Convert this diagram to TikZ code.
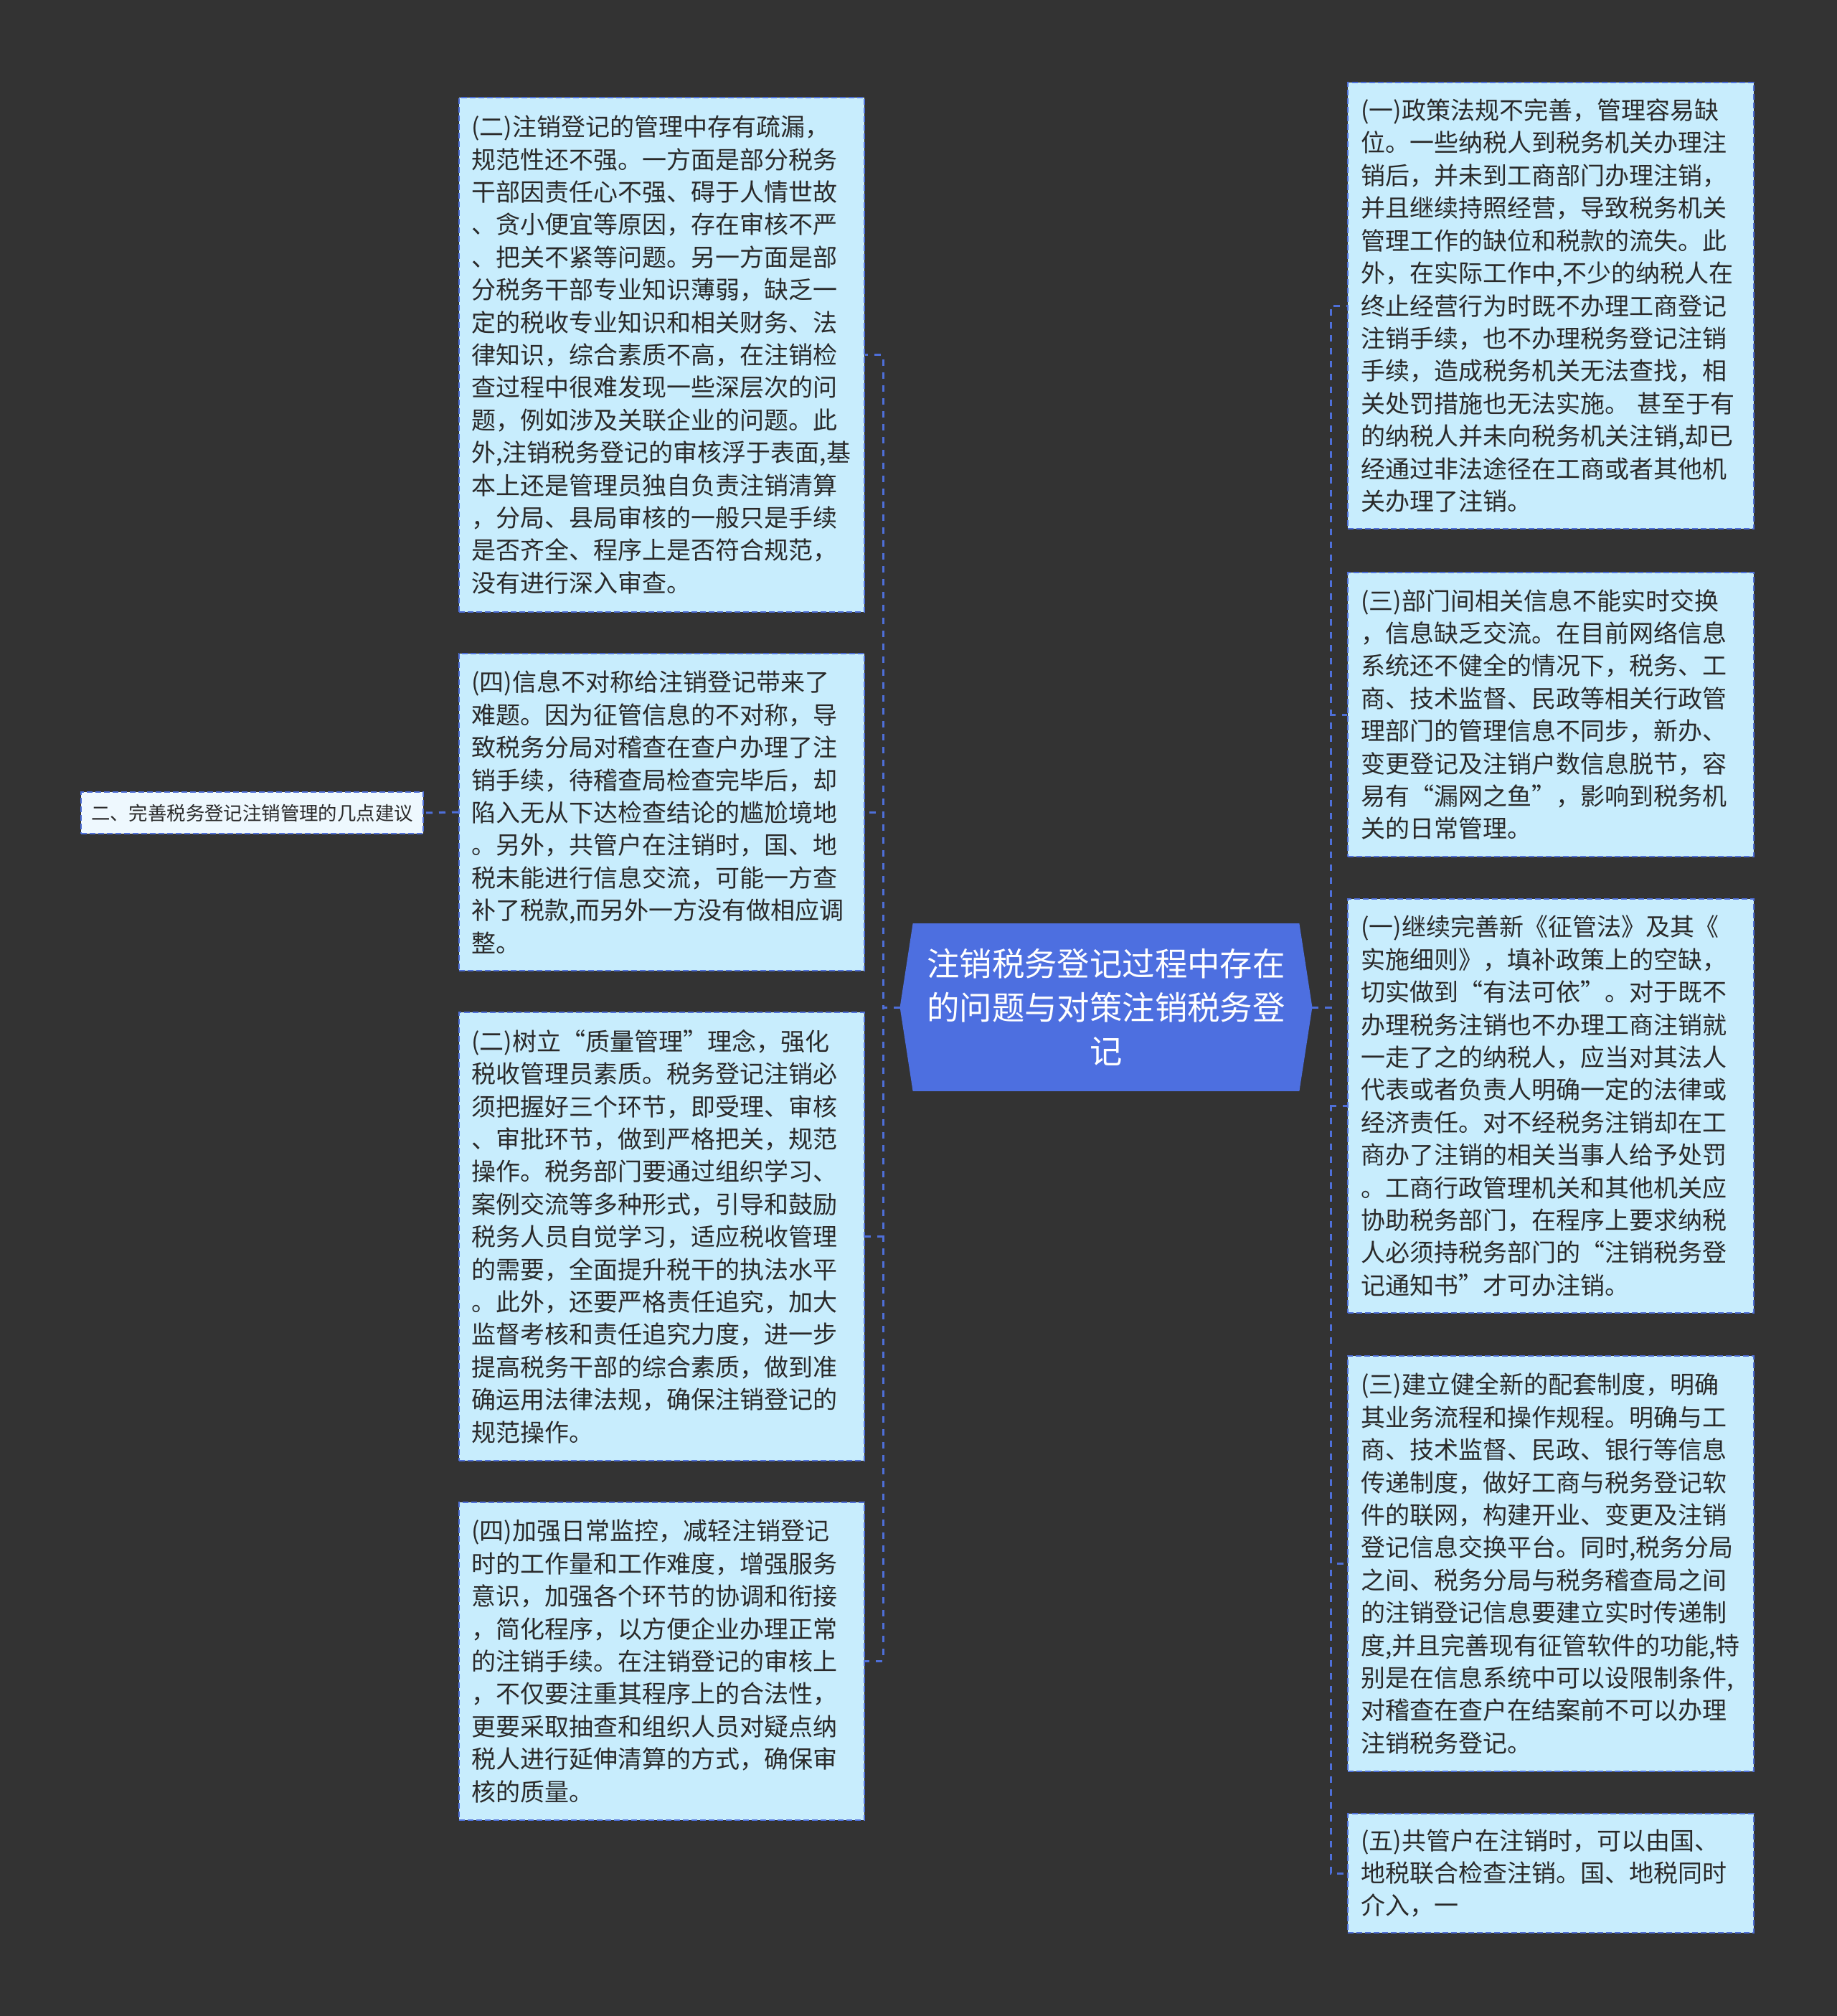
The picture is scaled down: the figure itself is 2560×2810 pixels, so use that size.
\documentclass[tikz,border=0pt]{standalone}
\usepackage{fontspec}
\newfontfamily\cjk{Noto Sans CJK SC}
\usetikzlibrary{calc}
\definecolor{bgdark}{HTML}{333333}
\definecolor{boxfill}{HTML}{C8EDFD}
\definecolor{dashblue}{HTML}{4E6FD9}
\definecolor{hexfill}{HTML}{4D6FE0}
\definecolor{smallfill}{HTML}{EEF8FE}
\definecolor{textdark}{HTML}{2A2A2A}
\pgfdeclarelayer{bottom}
\pgfdeclarelayer{hexlayer}
\pgfsetlayers{bottom,hexlayer,main}
\tikzset{
  box/.style={draw=dashblue, line width=1bp, dash pattern=on 4bp off 2bp,
    fill=boxfill, text=textdark, align=left, inner sep=0bp,
    text width=265bp, font=\cjk\fontsize{17bp}{22.7bp}\selectfont},
  lbox/.style={box, minimum width=282.5bp},
  rbox/.style={box, minimum width=283bp},
  smallbox/.style={draw=dashblue, line width=1bp, dash pattern=on 4bp off 2bp,
    fill=smallfill, text=textdark, inner sep=0bp, minimum width=238.5bp,
    minimum height=29bp, font=\cjk\fontsize{13.2bp}{16bp}\selectfont},
  centerbox/.style={inner sep=0bp, minimum width=287bp, minimum height=116.5bp,
    text=white, align=center, font=\cjk\fontsize{22.7bp}{30.5bp}\selectfont},
  conn/.style={draw=dashblue, line width=1.5bp, dash pattern=on 4.5bp off 4.5bp}
}
\begin{document}
\begin{tikzpicture}[x=0.5bp,y=-0.5bp]
\useasboundingbox (0,0) rectangle (2560,2810);
\begin{pgfonlayer}{bottom}
\fill[bgdark] (-20,-20) rectangle (2580,2830);
\end{pgfonlayer}

% central node
\node[centerbox] (c) at (1542,1404) {注销税务登记过程中存在\\的问题与对策注销税务登\\记};
\begin{pgfonlayer}{hexlayer}
\fill[hexfill] ($(c.north west)+(18,0)$) -- ($(c.north east)+(-18,0)$) -- (c.east)
  -- ($(c.south east)+(-18,0)$) -- ($(c.south west)+(18,0)$) -- (c.west) -- cycle;
\end{pgfonlayer}

% left column
\node[lbox, minimum height=358.5bp] (L1) at (922.5,494.5) {(二)注销登记的管理中存有疏漏，\\规范性还不强。一方面是部分税务\\干部因责任心不强、碍于人情世故\\、贪小便宜等原因，存在审核不严\\、把关不紧等问题。另一方面是部\\分税务干部专业知识薄弱，缺乏一\\定的税收专业知识和相关财务、法\\律知识，综合素质不高，在注销检\\查过程中很难发现一些深层次的问\\题，例如涉及关联企业的问题。此\\外,注销税务登记的审核浮于表面,基\\本上还是管理员独自负责注销清算\\，分局、县局审核的一般只是手续\\是否齐全、程序上是否符合规范，\\没有进行深入审查。};
\node[lbox, minimum height=221bp] (L2) at (922.5,1132) {(四)信息不对称给注销登记带来了\\难题。因为征管信息的不对称，导\\致税务分局对稽查在查户办理了注\\销手续，待稽查局检查完毕后，却\\陷入无从下达检查结论的尴尬境地\\。另外，共管户在注销时，国、地\\税未能进行信息交流，可能一方查\\补了税款,而另外一方没有做相应调\\整。};
\node[lbox, minimum height=312.5bp] (L3) at (922.5,1723.5) {(二)树立“质量管理”理念，强化\\税收管理员素质。税务登记注销必\\须把握好三个环节，即受理、审核\\、审批环节，做到严格把关，规范\\操作。税务部门要通过组织学习、\\案例交流等多种形式，引导和鼓励\\税务人员自觉学习，适应税收管理\\的需要，全面提升税干的执法水平\\。此外，还要严格责任追究，加大\\监督考核和责任追究力度，进一步\\提高税务干部的综合素质，做到准\\确运用法律法规，确保注销登记的\\规范操作。};
\node[lbox, minimum height=221.5bp] (L4) at (922.5,2315.5) {(四)加强日常监控，减轻注销登记\\时的工作量和工作难度，增强服务\\意识，加强各个环节的协调和衔接\\，简化程序，以方便企业办理正常\\的注销手续。在注销登记的审核上\\，不仅要注重其程序上的合法性，\\更要采取抽查和组织人员对疑点纳\\税人进行延伸清算的方式，确保审\\核的质量。};

\node[smallbox] (s) at (351.5,1133) {二、完善税务登记注销管理的几点建议};

% right column
\node[rbox, minimum height=311bp] (R1) at (2162,426) {(一)政策法规不完善，管理容易缺\\位。一些纳税人到税务机关办理注\\销后，并未到工商部门办理注销，\\并且继续持照经营，导致税务机关\\管理工作的缺位和税款的流失。此\\外，在实际工作中,不少的纳税人在\\终止经营行为时既不办理工商登记\\注销手续，也不办理税务登记注销\\手续，造成税务机关无法查找，相\\关处罚措施也无法实施。 甚至于有\\的纳税人并未向税务机关注销,却已\\经通过非法途径在工商或者其他机\\关办理了注销。};
\node[rbox, minimum height=198bp] (R2) at (2162,996) {(三)部门间相关信息不能实时交换\\，信息缺乏交流。在目前网络信息\\系统还不健全的情况下，税务、工\\商、技术监督、民政等相关行政管\\理部门的管理信息不同步，新办、\\变更登记及注销户数信息脱节，容\\易有“漏网之鱼”，影响到税务机\\关的日常管理。};
\node[rbox, minimum height=288.5bp] (R3) at (2162,1541.5) {(一)继续完善新《征管法》及其《\\实施细则》，填补政策上的空缺，\\切实做到“有法可依”。对于既不\\办理税务注销也不办理工商注销就\\一走了之的纳税人，应当对其法人\\代表或者负责人明确一定的法律或\\经济责任。对不经税务注销却在工\\商办了注销的相关当事人给予处罚\\。工商行政管理机关和其他机关应\\协助税务部门，在程序上要求纳税\\人必须持税务部门的“注销税务登\\记通知书”才可办注销。};
\node[rbox, minimum height=289.5bp] (R4) at (2162,2179.5) {(三)建立健全新的配套制度，明确\\其业务流程和操作规程。明确与工\\商、技术监督、民政、银行等信息\\传递制度，做好工商与税务登记软\\件的联网，构建开业、变更及注销\\登记信息交换平台。同时,税务分局\\之间、税务分局与税务稽查局之间\\的注销登记信息要建立实时传递制\\度,并且完善现有征管软件的功能,特\\别是在信息系统中可以设限制条件,\\对稽查在查户在结案前不可以办理\\注销税务登记。};
\node[rbox, minimum height=83bp] (R5) at (2162,2611) {(五)共管户在注销时，可以由国、\\地税联合检查注销。国、地税同时\\介入，一};

% connectors
\coordinate (jl) at (1231,1404);
\coordinate (jr) at (1855,1404);
\foreach \b in {L1,L2,L3,L4} { \draw[conn] (c.west) -- (jl) |- (\b.east); }
\foreach \b in {R1,R2,R3,R4,R5} { \draw[conn] (c.east) -- (jr) |- (\b.west); }
\draw[conn] (L2.west) -- (s.east);
\end{tikzpicture}
\end{document}
